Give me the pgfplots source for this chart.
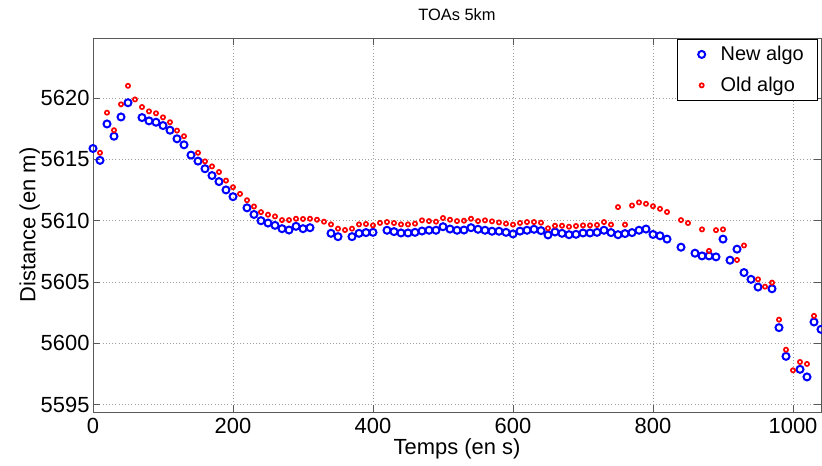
\documentclass[border=0pt]{standalone}
\usepackage{fontspec}
\setmainfont{Liberation Sans}
\usepackage{pgfplots}
\usepackage{pgfplotstable}
\pgfplotsset{compat=1.18}
\pgfplotstableread{
x y
0 5615.89
10 5614.92
20 5617.89
30 5616.89
40 5618.46
50 5619.62
70 5618.41
80 5618.14
90 5618.03
100 5617.76
110 5617.38
120 5616.68
130 5616.19
140 5615.35
150 5614.86
160 5614.24
170 5613.68
180 5613.19
190 5612.51
200 5611.96
220 5611.05
230 5610.51
240 5610.00
250 5609.81
260 5609.62
270 5609.35
280 5609.24
290 5609.54
300 5609.35
310 5609.43
340 5608.97
350 5608.70
370 5608.70
380 5608.97
390 5609.03
400 5609.05
420 5609.22
430 5609.11
440 5609.00
450 5609.00
460 5609.05
470 5609.16
480 5609.22
490 5609.22
500 5609.51
510 5609.32
520 5609.22
530 5609.24
540 5609.43
550 5609.30
560 5609.22
570 5609.14
580 5609.14
590 5609.05
600 5608.92
610 5609.15
620 5609.22
630 5609.30
640 5609.19
650 5608.84
660 5609.08
670 5608.97
680 5608.86
690 5608.89
700 5609.00
710 5609.00
720 5609.05
730 5609.22
740 5609.03
750 5608.86
760 5608.95
770 5609.03
780 5609.22
790 5609.32
800 5608.88
810 5608.77
820 5608.50
840 5607.84
860 5607.35
870 5607.13
880 5607.13
890 5607.05
900 5608.50
910 5606.78
920 5607.68
930 5605.77
940 5605.22
950 5604.59
970 5604.45
980 5601.28
990 5598.94
1010 5597.88
1020 5597.26
1030 5601.74
1040 5601.14
}\newalgo
\pgfplotstableread{
x y
10 5615.54
20 5618.81
30 5617.38
40 5619.49
50 5621.00
60 5619.89
70 5619.27
80 5618.92
90 5618.76
100 5618.43
110 5618.03
120 5617.35
130 5616.89
150 5615.54
160 5614.84
170 5614.43
180 5613.97
190 5613.27
200 5612.73
210 5612.19
220 5611.67
230 5611.16
240 5610.70
250 5610.49
260 5610.35
270 5610.05
280 5610.05
290 5610.16
300 5610.14
310 5610.16
320 5610.08
330 5609.92
340 5609.70
350 5609.35
360 5609.24
370 5609.35
380 5609.70
390 5609.73
400 5609.62
410 5609.82
420 5609.89
430 5609.81
440 5609.70
450 5609.70
460 5609.76
470 5610.03
480 5609.97
490 5609.92
500 5610.22
510 5610.08
520 5609.97
530 5610.00
540 5610.16
550 5609.97
560 5610.03
570 5609.95
580 5609.86
590 5609.76
600 5609.68
610 5609.82
620 5609.89
630 5609.89
640 5609.84
650 5609.38
660 5609.59
670 5609.59
680 5609.51
690 5609.57
700 5609.62
710 5609.62
720 5609.65
730 5609.89
740 5609.68
750 5611.11
760 5609.68
770 5611.24
780 5611.49
790 5611.38
800 5611.18
810 5610.97
820 5610.71
840 5610.05
850 5609.81
870 5609.29
880 5607.54
890 5609.23
900 5609.29
920 5606.80
930 5607.98
950 5605.22
960 5604.62
970 5604.95
980 5601.93
990 5599.48
1000 5597.80
1010 5598.48
1020 5598.32
1030 5602.24
}\oldalgo
\begin{document}
\begin{tikzpicture}
\path[use as bounding box] (-93bp,-54bp) rectangle (729bp,412bp);
\begin{axis}[
  at={(0,0)}, anchor=south west,
  scale only axis, width=728bp, height=374bp,
  xmin=0, xmax=1040, ymin=5594.4, ymax=5624.9,
  xtick={0,200,...,1000}, ytick={5595,5600,...,5620},
  grid=major,
  major grid style={dash pattern=on 1bp off 2.2bp, gray!75, line width=0.7bp},
  tick align=inside, major tick length=7bp,
  axis line style={black!65, line width=0.8bp},
  tick style={black!65, line width=0.8bp},
  ticklabel style={font=\fontsize{22}{24}\selectfont},
  xticklabel style={yshift=-3bp},
  /pgf/number format/assume math mode=true,
  /pgf/number format/1000 sep={},
  xlabel={Temps (en s)}, ylabel={Distance (en m)},
  label style={font=\fontsize{22}{24}\selectfont},
  xlabel style={at={(0.5,-0.113)}, anchor=base},
  ylabel style={at={(-0.079,0.5)}, anchor=base},
  title={TOAs 5km},
  title style={font=\fontsize{16.5}{18}\selectfont, at={(0.5,1.031)}, anchor=base},
  legend style={at={(0.996,0.997)}, anchor=north east, draw=black,
    line width=0.7bp, font=\fontsize{20}{24}\selectfont,
    inner xsep=12bp, inner ysep=5bp, row sep=11bp},
  legend image code/.code={\path (0bp,0bp) (27bp,0bp);
    \draw[#1] plot coordinates {(11bp,0bp)};},
  legend cell align=left,
]
\addplot[only marks, mark=o, mark size=3.5bp, draw=blue, line width=2bp] table[x=x,y=y] {\newalgo};
\addlegendentry{New algo}
\addplot[only marks, mark=o, mark size=2.1bp, draw=red, line width=1.7bp] table[x=x,y=y] {\oldalgo};
\addlegendentry{Old algo}
\end{axis}
\end{tikzpicture}
\end{document}
